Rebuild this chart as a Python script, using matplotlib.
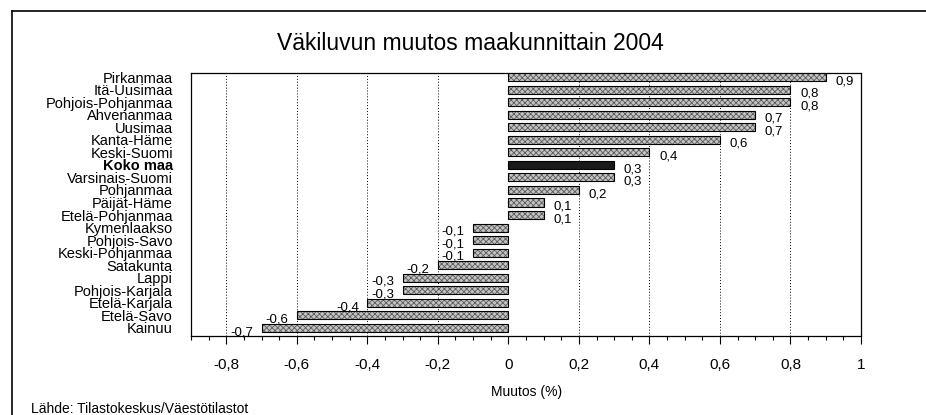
import matplotlib
matplotlib.use("Agg")
import matplotlib.pyplot as plt
from matplotlib.lines import Line2D
from matplotlib.ticker import FuncFormatter, MultipleLocator

plt.rcParams['font.family'] = ['Liberation Sans', 'DejaVu Sans']
plt.rcParams['hatch.linewidth'] = 0.6

# data
regions = ["Pirkanmaa", "Itä-Uusimaa", "Pohjois-Pohjanmaa", "Ahvenanmaa", "Uusimaa",
           "Kanta-Häme", "Keski-Suomi", "Koko maa", "Varsinais-Suomi", "Pohjanmaa",
           "Päijät-Häme", "Etelä-Pohjanmaa", "Kymenlaakso", "Pohjois-Savo",
           "Keski-Pohjanmaa", "Satakunta", "Lappi", "Pohjois-Karjala",
           "Etelä-Karjala", "Etelä-Savo", "Kainuu"]
change = [0.9, 0.8, 0.8, 0.7, 0.7, 0.6, 0.4, 0.3, 0.3, 0.2, 0.1, 0.1,
          -0.1, -0.1, -0.1, -0.2, -0.3, -0.3, -0.4, -0.6, -0.7]
highlight = "Koko maa"

def fi(v):
    return ("%g" % round(v, 2)).replace(".", ",")

fig = plt.figure(figsize=(9.26, 4.15), dpi=100)
ax = fig.add_axes([191/926, 1-336/415, 670/926, 263/415])

ypos = list(range(len(regions)))
for y, name, v in zip(ypos, regions, change):
    if name == highlight:
        ax.barh(y, v, height=0.64, color='#1a1a1a', edgecolor='black', linewidth=0.8, zorder=3)
    else:
        ax.barh(y, v, height=0.64, color='#c4c4c4', hatch='xxxxxx', edgecolor='#5a5a5a',
                linewidth=0, zorder=3)
        ax.barh(y, v, height=0.64, fill=False, edgecolor='black', linewidth=0.8, zorder=4)
    off = 7 if v > 0 else -6
    ax.annotate(fi(v), (v, y), xytext=(off, -3), textcoords='offset points',
                ha='left' if v > 0 else 'right', va='center', fontsize=9.5, zorder=5)

for gx in [-0.8, -0.6, -0.4, -0.2, 0.2, 0.4, 0.6, 0.8]:
    ax.axvline(gx, color='black', linestyle=(0, (1, 2)), linewidth=0.7, zorder=1)

ax.set_xlim(-0.9, 1.0)
ax.set_ylim(20.64, -0.32)
ax.xaxis.set_major_locator(MultipleLocator(0.2))
ax.xaxis.set_minor_locator(MultipleLocator(0.05))
ax.xaxis.set_major_formatter(FuncFormatter(lambda v, p: fi(v)))
ax.tick_params(axis='x', which='major', length=6, width=0.8, direction='out', pad=10, labelsize=11)
ax.tick_params(axis='x', which='minor', length=3, width=0.8, direction='out')
ax.set_yticks(ypos)
ax.set_yticklabels(regions, fontsize=10.5)
for lab in ax.get_yticklabels():
    if lab.get_text() == highlight:
        lab.set_fontweight('bold')
ax.tick_params(axis='y', length=0, pad=13)
for s in ax.spines.values():
    s.set_linewidth(0.9)

fig.text(470/926, 1-44/415, "Väkiluvun muutos maakunnittain 2004", ha='center', va='center', fontsize=16.5)
fig.text(527/926, 1-392/415, "Muutos (%)", ha='center', va='center', fontsize=10)
fig.text(31/926, 1-409/415, "Lähde: Tilastokeskus/Väestötilastot", ha='left', va='center', fontsize=10)

# outer frame
fig.add_artist(Line2D([12/926, 12/926], [0, 1-11/415], color='black', linewidth=1.2))
fig.add_artist(Line2D([12/926, 1], [1-11/415, 1-11/415], color='black', linewidth=1.2))

fig.savefig("out.png", dpi=100)
